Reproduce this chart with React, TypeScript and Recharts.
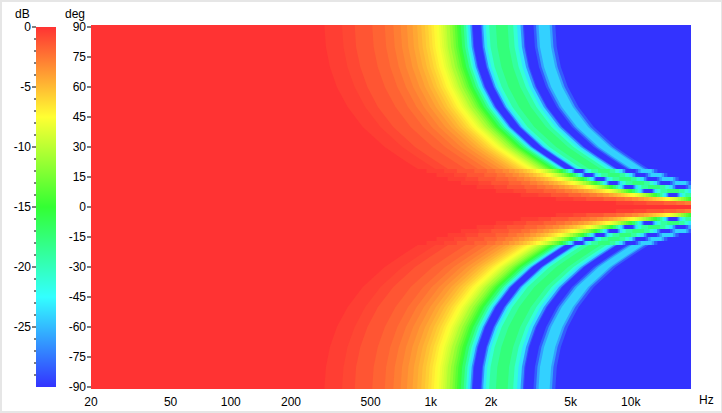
import { Area, Bar, BarChart, ComposedChart, XAxis, YAxis } from 'recharts';

const ANGLE_ROWS = [90, 80, 70, 60, 50, 40, 30, 25, 20, 18, 16, 14, 12, 10, 8, 6, 4, 2];

// frequency (Hz) at which each contour reaches the angle in ANGLE_ROWS, one list per contour
const CONTOUR_FREQS = [
  [294, 299, 313, 339, 384, 457, 588, 696, 860, 951, 1067, 1215, 1414, 1693, 2112, 2813, 4216, 8423],
  [360, 366, 383, 416, 470, 560, 720, 852, 1053, 1165, 1306, 1488, 1732, 2073, 2587, 3444, 5162, 10310],
  [417, 423, 444, 482, 544, 649, 834, 987, 1219, 1349, 1513, 1724, 2006, 2402, 2996, 3989, 5980, 11950],
  [510, 518, 543, 589, 666, 793, 1020, 1207, 1491, 1650, 1850, 2108, 2453, 2937, 3664, 4879, 7313, 14610],
  [589, 598, 627, 680, 769, 916, 1178, 1394, 1722, 1906, 2137, 2435, 2833, 3392, 4232, 5635, 8446, 16870],
  [650, 660, 692, 751, 849, 1011, 1300, 1538, 1901, 2103, 2358, 2687, 3127, 3743, 4670, 6219, 9321, 18620],
  [707, 718, 752, 816, 923, 1100, 1414, 1673, 2067, 2288, 2565, 2923, 3401, 4072, 5080, 6764, 10140, 20260],
  [760, 772, 809, 878, 992, 1182, 1520, 1798, 2222, 2459, 2757, 3142, 3656, 4377, 5461, 7271, 10900, 21770],
  [811, 823, 863, 936, 1059, 1262, 1622, 1919, 2371, 2624, 2942, 3353, 3901, 4670, 5827, 7759, 11630, 23240],
  [855, 868, 910, 987, 1116, 1330, 1710, 2023, 2500, 2767, 3102, 3535, 4113, 4924, 6143, 8180, 12260, 24500],
  [896, 910, 954, 1035, 1170, 1394, 1792, 2120, 2620, 2899, 3251, 3704, 4310, 5160, 6438, 8572, 12850, 25670],
  [934, 948, 994, 1078, 1219, 1453, 1868, 2210, 2731, 3022, 3389, 3861, 4493, 5379, 6711, 8936, 13390, 26760],
  [971, 986, 1033, 1121, 1268, 1511, 1942, 2297, 2839, 3142, 3523, 4014, 4671, 5592, 6977, 9290, 13920, 27820],
  [1006, 1021, 1071, 1162, 1313, 1565, 2012, 2380, 2942, 3255, 3650, 4159, 4839, 5794, 7228, 9624, 14430, 28820],
  [1037, 1053, 1104, 1197, 1354, 1613, 2074, 2454, 3032, 3356, 3762, 4287, 4988, 5972, 7451, 9921, 14870, 29710],
  [1068, 1084, 1137, 1233, 1394, 1661, 2136, 2527, 3123, 3456, 3875, 4415, 5137, 6151, 7674, 10220, 15320, 30600],
  [1098, 1115, 1168, 1268, 1433, 1708, 2196, 2598, 3211, 3553, 3983, 4539, 5281, 6323, 7889, 10500, 15750, 31460],
  [1125, 1142, 1197, 1299, 1469, 1750, 2250, 2662, 3290, 3641, 4082, 4651, 5411, 6479, 8083, 10760, 16130, 32230],
  [1151, 1169, 1225, 1329, 1503, 1791, 2302, 2723, 3366, 3725, 4176, 4758, 5536, 6629, 8270, 11010, 16510, 32980],
  [1178, 1196, 1254, 1360, 1538, 1833, 2356, 2787, 3445, 3812, 4274, 4870, 5666, 6784, 8464, 11270, 16890, 33750],
  [1200, 1218, 1277, 1386, 1566, 1867, 2400, 2839, 3509, 3883, 4354, 4961, 5772, 6911, 8622, 11480, 17210, 34380],
  [1243, 1262, 1323, 1435, 1623, 1934, 2486, 2941, 3635, 4022, 4510, 5139, 5979, 7158, 8931, 11890, 17820, 35610],
  [1283, 1303, 1365, 1481, 1675, 1996, 2566, 3036, 3751, 4152, 4655, 5304, 6171, 7389, 9218, 12270, 18400, 36760],
  [1318, 1338, 1403, 1522, 1721, 2050, 2636, 3118, 3854, 4265, 4782, 5449, 6340, 7590, 9470, 12610, 18900, 37760],
  [1353, 1374, 1440, 1562, 1766, 2105, 2706, 3201, 3956, 4378, 4909, 5593, 6508, 7792, 9721, 12940, 19400, 38760],
  [1384, 1405, 1473, 1598, 1807, 2153, 2768, 3275, 4047, 4479, 5021, 5721, 6657, 7970, 9944, 13240, 19850, 39650],
  [1413, 1435, 1504, 1632, 1845, 2198, 2826, 3343, 4132, 4572, 5126, 5841, 6797, 8137, 10150, 13520, 20260],
  [1461, 1483, 1555, 1687, 1907, 2273, 2922, 3457, 4272, 4728, 5300, 6040, 7027, 8414, 10500, 13980, 20950],
  [1503, 1526, 1599, 1735, 1962, 2338, 3006, 3556, 4395, 4864, 5453, 6213, 7229, 8656, 10800, 14380, 21550],
  [1536, 1560, 1635, 1774, 2005, 2390, 3072, 3634, 4491, 4970, 5573, 6350, 7388, 8846, 11040, 14690, 22030],
  [1577, 1601, 1678, 1821, 2059, 2453, 3154, 3731, 4611, 5103, 5721, 6519, 7585, 9082, 11330, 15090, 22610],
  [1606, 1631, 1709, 1854, 2096, 2498, 3212, 3800, 4696, 5197, 5827, 6639, 7725, 9249, 11540, 15360, 23030],
  [1624, 1649, 1728, 1875, 2120, 2526, 3248, 3842, 4749, 5255, 5892, 6714, 7811, 9353, 11670, 15540, 23290],
  // first side lobe
  [1775, 1802, 1889, 2050, 2317, 2761, 3550, 4200, 5190, 5744, 6440, 7338, 8538, 10220, 12750, 16980, 25450],
  [1795, 1823, 1910, 2073, 2343, 2792, 3590, 4247, 5249, 5809, 6512, 7420, 8634, 10340, 12900, 17170, 25740],
  [1830, 1858, 1947, 2113, 2389, 2847, 3660, 4330, 5351, 5922, 6639, 7565, 8802, 10540, 13150, 17510, 26240],
  [1885, 1914, 2006, 2177, 2461, 2932, 3770, 4460, 5512, 6100, 6839, 7793, 9067, 10860, 13540, 18030, 27030],
  [1960, 1990, 2086, 2263, 2559, 3049, 3920, 4637, 5731, 6343, 7111, 8103, 9428, 11290, 14080, 18750, 28110],
  [2118, 2151, 2254, 2446, 2765, 3295, 4236, 5011, 6193, 6854, 7684, 8756, 10190, 12200, 15220, 20260],
  [2425, 2462, 2581, 2800, 3166, 3773, 4850, 5738, 7091, 7847, 8798, 10030, 11660, 13970, 17420, 23200],
  [2584, 2624, 2750, 2984, 3373, 4020, 5168, 6114, 7556, 8362, 9375, 10680, 12430, 14880, 18570, 24720],
  [2702, 2744, 2875, 3120, 3527, 4204, 5404, 6393, 7901, 8744, 9803, 11170, 13000, 15560, 19410, 25850],
  [2812, 2855, 2993, 3247, 3671, 4375, 5624, 6653, 8222, 9100, 10200, 11620, 13530, 16190, 20200],
  [2891, 2936, 3077, 3338, 3774, 4498, 5782, 6840, 8453, 9355, 10490, 11950, 13910, 16650, 20770],
  [2931, 2976, 3119, 3384, 3826, 4560, 5862, 6935, 8570, 9485, 10630, 12120, 14100, 16880, 21060],
  // second side lobe
  [3265, 3315, 3475, 3770, 4262, 5079, 6530, 7725, 9547, 10570, 11850, 13500, 15700, 18800, 23460],
  [3361, 3413, 3577, 3881, 4387, 5229, 6722, 7952, 9828, 10880, 12190, 13890, 16170, 19360, 24150],
  [3462, 3515, 3684, 3998, 4519, 5386, 6924, 8191, 10120, 11200, 12560, 14310, 16650, 19940, 24870],
  [3933, 3994, 4186, 4541, 5134, 6119, 7866, 9305, 11500, 12730, 14270, 16260, 18920, 22650],
  [4042, 4104, 4302, 4667, 5276, 6288, 8084, 9563, 11820, 13080, 14660, 16710, 19440, 23280],
  [4200, 4265, 4470, 4850, 5483, 6534, 8400, 9937, 12280, 13590, 15240, 17360, 20200],
];

// level (dB) of the band that starts at each contour above
const BAND_DB = [
  -0.4, -0.75, -1.25, -1.75, -2.25, -2.75, -3.25, -3.75, -4.25, -4.75, -5.25, -5.75, -6.25, -6.75, -7.25, -7.75,
  -8.25, -8.75, -9.25, -9.75, -10.5, -11.5, -12.5, -13.5, -14.5, -15.5, -17, -19, -21, -23.5, -26.5, -29, -30,
  -29, -26.5, -23.5, -21, -19, -17.6, -19, -21, -23.5, -26.5, -29, -30,
  -28.5, -26, -24.2, -26, -28.5, -30,
];

const FREQ_RANGE = [20, 20000];
const FREQ_TICKS = [20, 50, 100, 200, 500, 1000, 2000, 5000, 10000];
const DEG_TICKS = [90, 75, 60, 45, 30, 15, 0, -15, -30, -45, -60, -75, -90];
const DB_TICKS = [0, -1, -2, -3, -4, -5, -6, -7, -8, -9, -10, -11, -12, -13, -14, -15, -16, -17, -18, -19, -20, -21, -22, -23, -24, -25, -26, -27, -28, -29];
const DB_STOPS = [0, -7.5, -15, -22.5, -30];
const DB_BAR = [{ name: 'dB', level: -30 }];

const FONT = '"Liberation Sans", Arial, sans-serif';
const dbColor = (db: number) => `hsl(${-db * 8}, 100%, 60%)`;
const freqLabel = (v: number) => (v >= 1000 ? `${v / 1000}k` : `${v}`);

type Pt = { f: number; a: number };

// 2 deg rows are stepped like the cells of the map, the steeper part is a plain line
function contourPoints(freqs: number[]): Pt[] {
  const pts: Pt[] = [];
  freqs.forEach((f, i) => {
    const angle = ANGLE_ROWS[i];
    if (angle > 20) {
      pts.push({ f, a: angle });
      return;
    }
    if (i > 0 && ANGLE_ROWS[i - 1] <= 20) pts.push({ f, a: ANGLE_ROWS[i - 1] - 1 });
    pts.push({ f, a: angle - 1 });
  });
  const last = pts[pts.length - 1];
  if (last.f < 20000) pts.push({ f: 20000, a: last.a });
  return pts;
}

const upper = (d: Pt) => [91, d.a];
const lower = (d: Pt) => [-91, -d.a];

function DbTick({ x, y, payload }: any) {
  const major = payload.value % 5 === 0;
  return (
    <g>
      <line x1={x - (major ? 4 : 2)} x2={x} y1={y} y2={y} stroke="#000" />
      {major && (
        <text x={x - 5} y={y + 4} textAnchor="end" fontSize={12} fontFamily={FONT} fill="#000">
          {payload.value}
        </text>
      )}
    </g>
  );
}

function band(key: string, data: Pt[], db: number) {
  const common = {
    data,
    stroke: 'none',
    fill: dbColor(db),
    fillOpacity: 1,
    dot: false,
    activeDot: false,
    isAnimationActive: false,
  };
  return [
    <Area key={`${key}-u`} dataKey={upper} {...common} />,
    <Area key={`${key}-l`} dataKey={lower} {...common} />,
  ];
}

const axisText = { fontSize: 12, fontFamily: FONT, fill: '#000' };
const caption = (left: number, top: number, text: string) => (
  <div style={{ position: 'absolute', left, top, font: `12px ${FONT}`, color: '#000' }}>{text}</div>
);

export default function App() {
  return (
    <div style={{ position: 'absolute', left: 0, top: 0, width: 722, height: 413, background: '#fff', overflow: 'hidden' }}>
      <div style={{ position: 'absolute', left: 0, top: 0, width: 722, height: 413, boxSizing: 'border-box', borderTop: '2px solid #e6e6e6', borderLeft: '2px solid #e6e6e6', borderBottom: '2px solid #e6e6e6', borderRight: '1px solid #e6e6e6' }} />

      <div style={{ position: 'absolute', left: 0, top: 0 }}>
        <ComposedChart width={722} height={413} margin={{ top: 25, right: 31, bottom: 0, left: 0 }}>
          <XAxis
            dataKey="f"
            type="number"
            scale="log"
            domain={FREQ_RANGE}
            ticks={FREQ_TICKS}
            tickFormatter={freqLabel}
            allowDataOverflow
            axisLine={false}
            tickLine={false}
            tickMargin={2}
            height={24}
            interval={0}
            tick={axisText}
          />
          <YAxis
            type="number"
            domain={[-91, 91]}
            ticks={DEG_TICKS}
            allowDataOverflow
            axisLine={false}
            tickSize={4}
            tickMargin={1}
            tickLine={{ stroke: '#000' }}
            width={91}
            interval={0}
            tick={axisText}
          />
          {band('base', FREQ_RANGE.map((f) => ({ f, a: 0 })), 0)}
          {CONTOUR_FREQS.map((freqs, i) => band(`c${i}`, contourPoints(freqs), BAND_DB[i]))}
        </ComposedChart>
      </div>

      <div style={{ position: 'absolute', left: 0, top: 0 }}>
        <BarChart width={57} height={413} data={DB_BAR} margin={{ top: 27, right: 1, bottom: 26, left: 0 }} barCategoryGap={0}>
          <defs>
            <linearGradient id="dbScale" x1="0" y1="0" x2="0" y2="1">
              {DB_STOPS.map((db) => (
                <stop key={db} offset={db / -30} stopColor={dbColor(db)} />
              ))}
            </linearGradient>
          </defs>
          <XAxis dataKey="name" hide />
          <YAxis
            type="number"
            domain={[-30, 0]}
            ticks={DB_TICKS}
            axisLine={false}
            tickLine={false}
            tickMargin={0}
            tickSize={0}
            width={36}
            interval={0}
            tick={<DbTick />}
          />
          <Bar dataKey="level" fill="url(#dbScale)" isAnimationActive={false} />
        </BarChart>
      </div>

      {caption(15, 7, 'dB')}
      {caption(65, 7, 'deg')}
      {caption(699, 393, 'Hz')}
    </div>
  );
}
